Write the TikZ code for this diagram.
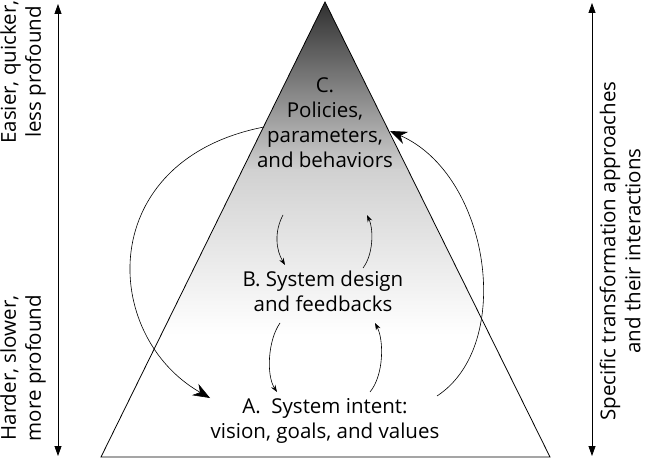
\documentclass[tikz,border=0pt]{standalone}
\usepackage{fontspec}
\setmainfont{Open Sans}
\usetikzlibrary{arrows.meta,positioning}

\begin{document}
\begin{tikzpicture}[x=1pt,y=-1pt,
    lbl/.style={align=center, font=\fontsize{20.5}{25}\selectfont, inner sep=0pt},
    smallloop/.style={-{Stealth[length=7pt,width=5pt]}, line width=0.6pt},
    bigloop/.style={-{Stealth[length=17pt,width=13pt]}, line width=0.6pt},
    axisarrow/.style={{Triangle[length=10pt,width=7pt]}-{Triangle[length=10pt,width=7pt]}, line width=0.8pt}]
    \useasboundingbox (0,0) rectangle (645,462);

    % Triangle
    \coordinate (apex) at (325,2);
    \coordinate (baseL) at (101,457);
    \coordinate (baseR) at (550,457);
    \begin{scope}
        \clip (apex) -- (baseL) -- (baseR) -- cycle;
        \shade[top color=black!82, bottom color=black!18] (100,0) rectangle (550,171);
        \shade[top color=black!18, bottom color=white] (100,170) rectangle (550,335);
    \end{scope}
    \draw[line width=0.8pt] (apex) -- (baseL) -- (baseR) -- cycle;

    % Levels
    \node[lbl] (C) at (325,123) {C.\\Policies,\\parameters,\\and behaviors};
    \node[lbl] (B) at (323,291) {B. System design\\and feedbacks};
    \node[lbl] (A) at (325,421) {A.\ \ System intent:\\vision, goals, and values};

    % Side labels
    \node[lbl, rotate=90] (easy) at (23,72) {Easier, quicker,\\less profound};
    \node[lbl, rotate=90] (hard) at (23,368) {Harder, slower,\\more profound};
    \node[lbl, rotate=90] (approach) at (620,251) {Specific transformation approaches\\and their interactions};

    % Side arrows
    \coordinate (Ltop) at (58,4);
    \coordinate (Lbot) at (58,456);
    \coordinate (Rtop) at (592,3);
    \coordinate (Rbot) at (592,456);
    \draw[axisarrow] (Ltop) -- (Lbot);
    \draw[axisarrow] (Rtop) -- (Rbot);

    % Loop end points
    \coordinate (CtoB1) at (283,215);
    \coordinate (CtoB2) at (285,265);
    \coordinate (BtoC1) at (363,268);
    \coordinate (BtoC2) at (367,215);
    \coordinate (BtoA1) at (280,323);
    \coordinate (BtoA2) at (277,392);
    \coordinate (AtoB1) at (370,392);
    \coordinate (AtoB2) at (375,323);
    \coordinate (CtoA1) at (264,127);
    \coordinate (CtoA2) at (210,398);
    \coordinate (AtoC1) at (437,396);
    \coordinate (AtoC2) at (390,131);

    % Small loops
    \draw[smallloop] (CtoB1) .. controls (274,232) and (276,250) .. (CtoB2);
    \draw[smallloop] (BtoC1) .. controls (373,255) and (374,230) .. (BtoC2);
    \draw[smallloop] (BtoA1) .. controls (268,340) and (266,375) .. (BtoA2);
    \draw[smallloop] (AtoB1) .. controls (384,375) and (384,340) .. (AtoB2);

    % Big loops
    \draw[bigloop] (CtoA1) .. controls (95,160) and (100,335) .. (CtoA2);
    \draw[bigloop] (AtoC1) .. controls (515,345) and (490,175) .. (AtoC2);
\end{tikzpicture}
\end{document}
